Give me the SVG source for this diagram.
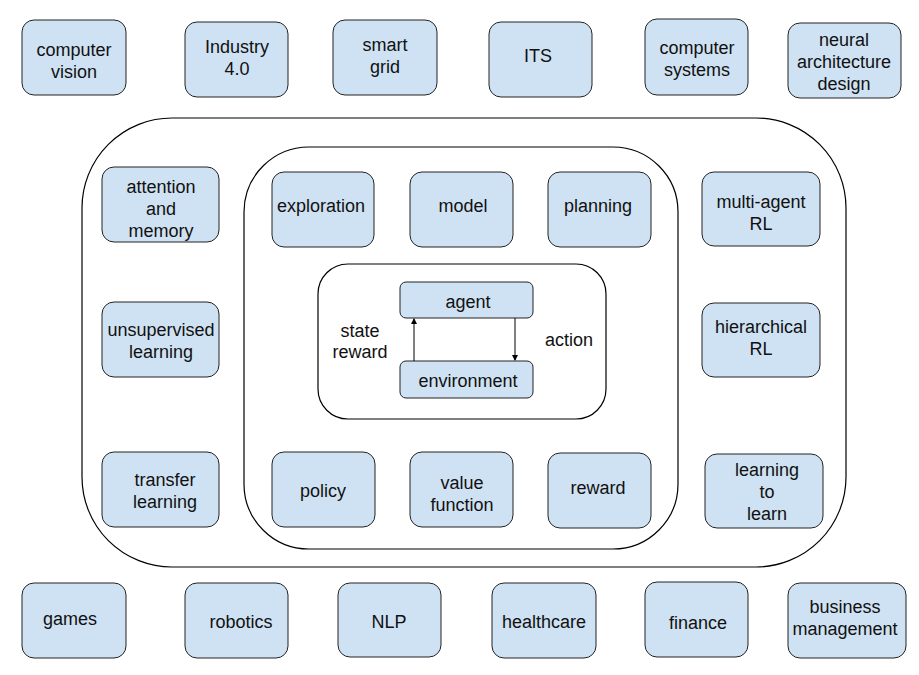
<svg xmlns="http://www.w3.org/2000/svg" width="919" height="675" viewBox="0 0 919 675">
<defs>
<style>
.n{fill:#cfe2f3;stroke:#222;stroke-width:1}
.c{fill:none;stroke:#000;stroke-width:1.2}
text{font-family:"Liberation Sans",Arial,sans-serif;font-size:18px;fill:#111;text-anchor:middle}
.e{stroke:#000;stroke-width:1;fill:none}
</style>
<marker id="ah" viewBox="0 0 6 6" refX="5" refY="3" markerWidth="6" markerHeight="6" orient="auto" markerUnits="userSpaceOnUse">
<path d="M0,0 L6,3 L0,6 z" fill="#000"/>
</marker>
</defs>
<rect width="919" height="675" fill="#fff"/>
<g id="containers">
<rect class="c" x="82" y="118" width="764" height="449" rx="90" ry="90"/>
<rect class="c" x="244" y="147" width="434" height="402" rx="65" ry="65"/>
<rect class="c" x="318" y="264" width="288" height="155" rx="30" ry="30"/>
</g>
<g id="top-row">
<g id="computer-vision"><rect class="n" x="22" y="20" width="104" height="75" rx="12"/><text x="74" y="56">computer</text><text x="74" y="78">vision</text></g>
<g id="industry"><rect class="n" x="185" y="22" width="103" height="75" rx="12"/><text x="237" y="53">Industry</text><text x="237" y="75">4.0</text></g>
<g id="smart-grid"><rect class="n" x="333" y="20" width="104" height="75" rx="12"/><text x="385" y="51">smart</text><text x="385" y="73">grid</text></g>
<g id="its"><rect class="n" x="489" y="22" width="103" height="75" rx="12"/><text x="538" y="62">ITS</text></g>
<g id="computer-systems"><rect class="n" x="645" y="19" width="103" height="76" rx="12"/><text x="697" y="54">computer</text><text x="697" y="76">systems</text></g>
<g id="nas"><rect class="n" x="788" y="23" width="113" height="75" rx="12"/><text x="844" y="46">neural</text><text x="844" y="68">architecture</text><text x="844" y="90">design</text></g>
</g>
<g id="left-col">
<g id="attention"><rect class="n" x="102" y="167" width="117" height="75" rx="12"/><text x="161" y="193">attention</text><text x="161" y="215">and</text><text x="161" y="237">memory</text></g>
<g id="unsupervised"><rect class="n" x="102" y="302" width="117" height="75" rx="12"/><text x="161" y="336">unsupervised</text><text x="161" y="358">learning</text></g>
<g id="transfer"><rect class="n" x="102" y="452" width="117" height="75" rx="12"/><text x="165" y="486">transfer</text><text x="165" y="508">learning</text></g>
</g>
<g id="inner">
<g id="exploration"><rect class="n" x="272" y="172" width="102" height="75" rx="12"/><text x="321" y="212">exploration</text></g>
<g id="model"><rect class="n" x="410" y="172" width="103" height="75" rx="12"/><text x="463" y="212">model</text></g>
<g id="planning"><rect class="n" x="548" y="172" width="103" height="75" rx="12"/><text x="598" y="212">planning</text></g>
<g id="policy"><rect class="n" x="272" y="452" width="103" height="75" rx="12"/><text x="323" y="497">policy</text></g>
<g id="value"><rect class="n" x="410" y="452" width="103" height="75" rx="12"/><text x="462" y="489">value</text><text x="462" y="511">function</text></g>
<g id="reward"><rect class="n" x="548" y="453" width="103" height="75" rx="12"/><text x="598" y="494">reward</text></g>
<g id="agent"><rect class="n" x="400" y="282" width="133" height="36" rx="6"/><text x="468" y="308">agent</text></g>
<g id="environment"><rect class="n" x="400" y="361" width="133" height="37" rx="6"/><text x="468" y="387">environment</text></g>
<text x="360" y="337">state</text><text x="360" y="358">reward</text>
<text x="569" y="346">action</text>
</g>
<g id="connectors">
<line class="e" x1="414" y1="361" x2="414" y2="319" marker-end="url(#ah)"/>
<line class="e" x1="515" y1="318" x2="515" y2="360" marker-end="url(#ah)"/>
</g>
<g id="right-col">
<g id="multi-agent"><rect class="n" x="702" y="172" width="118" height="74" rx="12"/><text x="761" y="208">multi-agent</text><text x="761" y="230">RL</text></g>
<g id="hierarchical"><rect class="n" x="702" y="303" width="118" height="74" rx="12"/><text x="761" y="333">hierarchical</text><text x="761" y="355">RL</text></g>
<g id="l2l"><rect class="n" x="705" y="454" width="118" height="74" rx="12"/><text x="767" y="476">learning</text><text x="767" y="498">to</text><text x="767" y="520">learn</text></g>
</g>
<g id="bottom-row">
<g id="games"><rect class="n" x="22" y="583" width="104" height="75" rx="12"/><text x="70" y="625">games</text></g>
<g id="robotics"><rect class="n" x="185" y="583" width="103" height="75" rx="12"/><text x="241" y="628">robotics</text></g>
<g id="nlp"><rect class="n" x="338" y="583" width="103" height="74" rx="12"/><text x="389" y="628">NLP</text></g>
<g id="healthcare"><rect class="n" x="492" y="583" width="104" height="75" rx="12"/><text x="544" y="628">healthcare</text></g>
<g id="finance"><rect class="n" x="645" y="582" width="103" height="75" rx="12"/><text x="698" y="629">finance</text></g>
<g id="business"><rect class="n" x="788" y="583" width="118" height="75" rx="12"/><text x="845" y="613">business</text><text x="845" y="635">management</text></g>
</g>
</svg>
